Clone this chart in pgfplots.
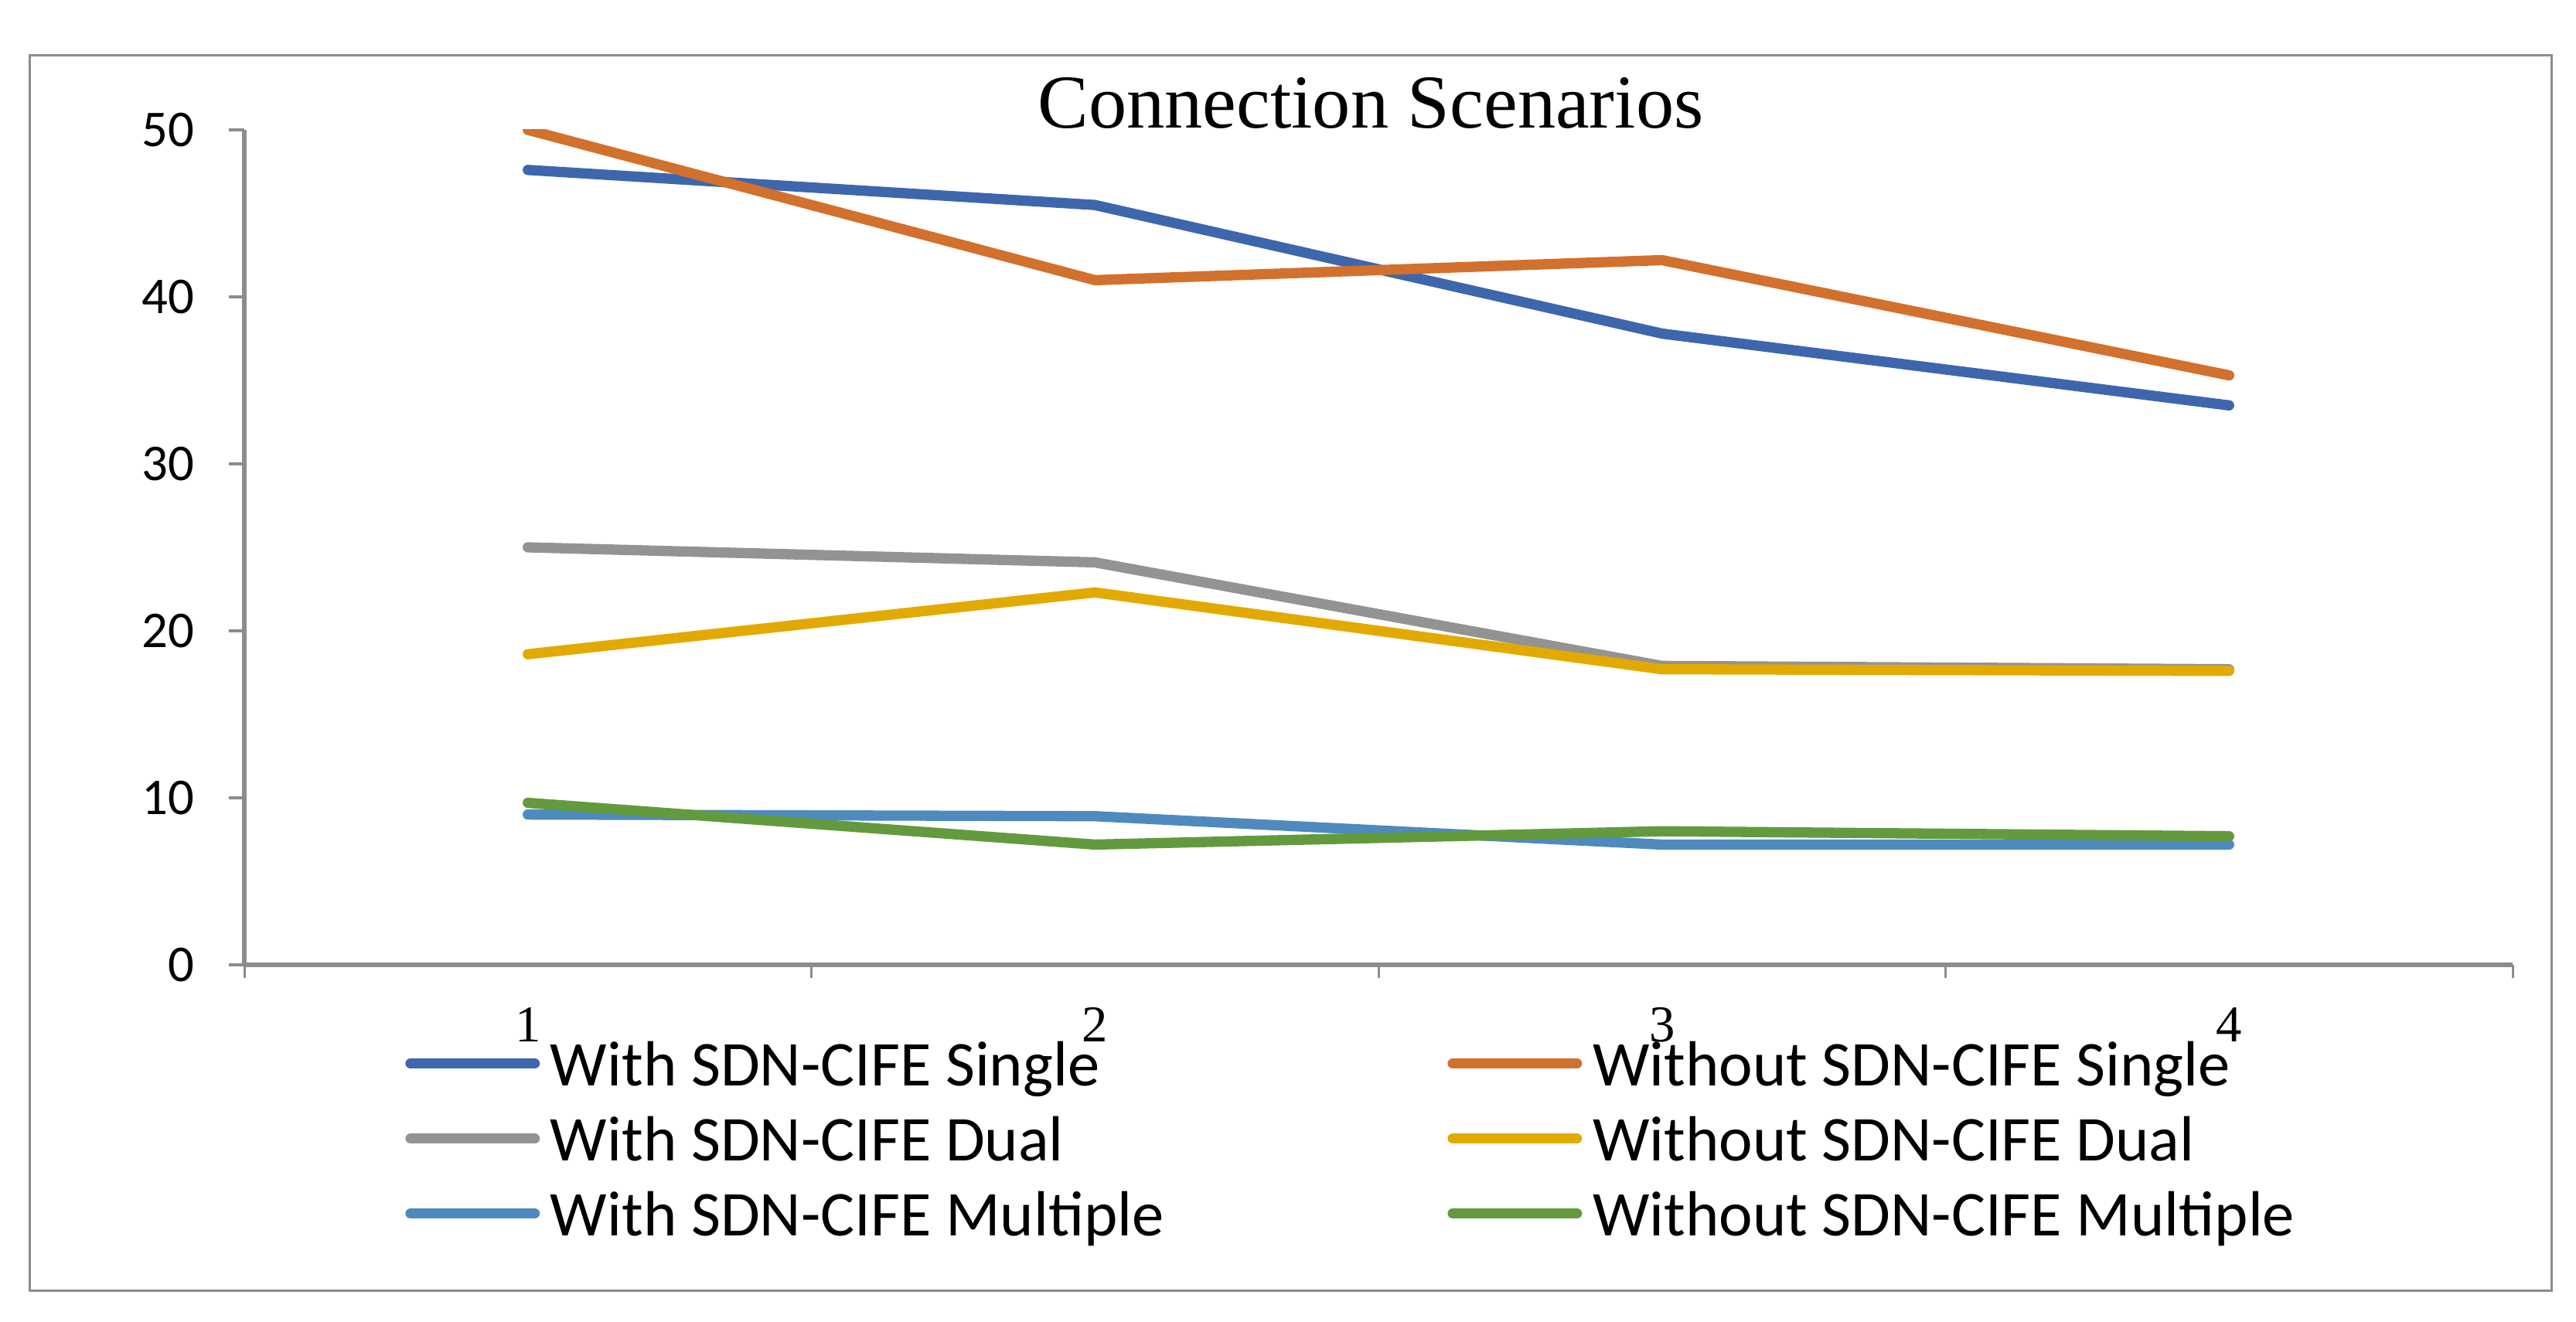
\documentclass[border=0pt]{standalone}
\usepackage{fontspec}
\setmainfont{Carlito}
\newfontfamily\tnr{Liberation Serif}
\usepackage{pgfplots}
\pgfplotsset{compat=1.18}

\definecolor{wsingle}{HTML}{3E66AD}
\definecolor{wosingle}{HTML}{D2702D}
\definecolor{wdual}{HTML}{939393}
\definecolor{wodual}{HTML}{E2AA00}
\definecolor{wmulti}{HTML}{4E8ABE}
\definecolor{womulti}{HTML}{639A3E}
\definecolor{axgray}{HTML}{8C8C8C}

\pgfplotsset{series/.style={color=#1, line width=0.133cm, line cap=round, line join=round, mark=none}}

\begin{document}
\begin{tikzpicture}
\useasboundingbox (0,0) rectangle (33.32cm,17.10cm);
\draw[axgray, line width=0.03cm] (0.38cm,0.40cm) rectangle (33.00cm,16.38cm);
\begin{axis}[
    at={(3.16cm,4.62cm)}, anchor=south west,
    scale only axis, width=29.34cm, height=10.80cm,
    xmin=0.5, xmax=4.5, ymin=0, ymax=50,
    axis lines=left,
    axis line style={-, axgray, line width=0.06cm},
    tick align=outside,
    xtick={1,2,3,4}, xticklabels={1,2,3,4},
    minor xtick={0.5,1.5,2.5,3.5,4.5},
    major x tick style={draw=none},
    minor x tick style={axgray, line width=0.03cm},
    minor tick length=0.17cm,
    ytick={0,10,20,30,40,50},
    major y tick style={axgray, line width=0.045cm},
    major tick length=0.2cm,
    xticklabel style={font=\tnr\fontsize{19}{19}\selectfont, anchor=base, inner sep=0pt, yshift=-0.8cm},
    yticklabel style={font=\fontsize{19}{19}\selectfont, anchor=east, inner sep=0pt, xshift=-0.44cm},
    /pgf/number format/assume math mode=true,
    legend columns=2,
    legend cell align=left,
    legend style={at={(0.0685,-0.0889)}, anchor=north west, draw=none, fill=none,
        inner sep=0pt, row sep=0.17cm,
        font=\fontsize{23.5}{23.5}\selectfont,
        nodes={inner sep=0pt, text height=0.6cm, text depth=0.2cm},
        /tikz/every odd column/.append style={column sep=0cm},
        /tikz/every even column/.append style={column sep=3.60cm}},
    legend image code/.code={
        \path (0,0) (1.81cm,0.24cm);
        \draw[#1, overlay] (0.067cm,0.09cm) -- (1.673cm,0.09cm);
    },
]
\addplot[series=wsingle] coordinates {(1,47.6) (2,45.5) (3,37.8) (4,33.5)};
\addlegendentry{With SDN-CIFE Single}
\addplot[series=wosingle] coordinates {(1,50.0) (2,41.0) (3,42.2) (4,35.3)};
\addlegendentry{Without SDN-CIFE Single}
\addplot[series=wdual] coordinates {(1,25.0) (2,24.1) (3,17.9) (4,17.7)};
\addlegendentry{With SDN-CIFE Dual}
\addplot[series=wodual] coordinates {(1,18.6) (2,22.3) (3,17.7) (4,17.6)};
\addlegendentry{Without SDN-CIFE Dual}
\addplot[series=wmulti] coordinates {(1,9.0) (2,8.9) (3,7.2) (4,7.2)};
\addlegendentry{With SDN-CIFE Multiple}
\addplot[series=womulti] coordinates {(1,9.7) (2,7.2) (3,8.0) (4,7.7)};
\addlegendentry{Without SDN-CIFE Multiple}
\end{axis}
\node[anchor=base, font=\tnr\fontsize{28}{28}\selectfont, inner sep=0pt] at (17.73cm,15.44cm) {Connection Scenarios};
\end{tikzpicture}
\end{document}
